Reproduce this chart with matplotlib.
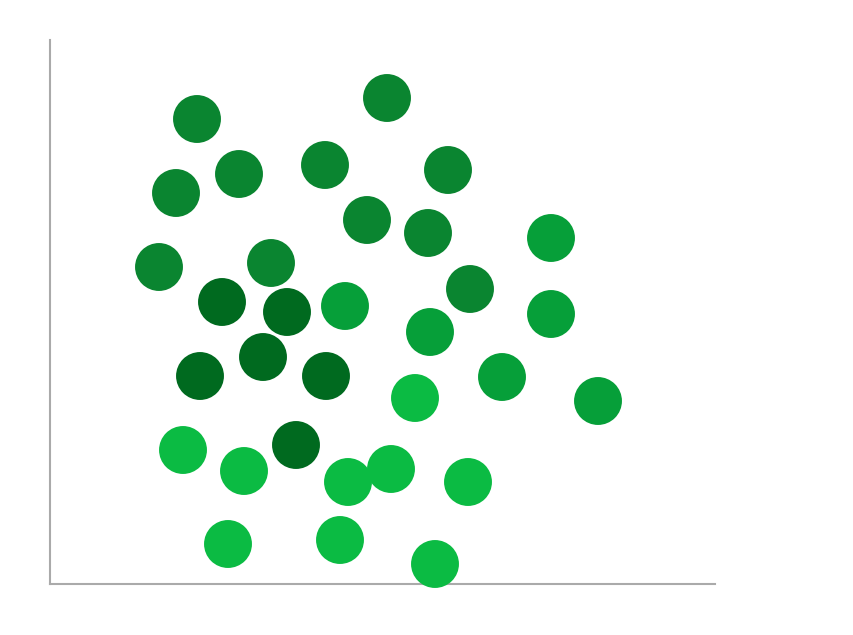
import numpy as np
import matplotlib
matplotlib.use("Agg")
import matplotlib.pyplot as plt

# x / y values per shade group (y measured upward from x axis)
dark_x = [222, 287, 200, 263, 326, 296]
dark_y = [282, 272, 208, 227, 208, 139]

mid_x = [197, 387, 176, 239, 325, 448, 367, 428, 159, 271, 470]
mid_y = [465, 486, 391, 410, 419, 414, 364, 351, 317, 321, 295]

midlight_x = [551, 345, 430, 551, 502, 598]
midlight_y = [346, 278, 252, 270, 207, 183]

light_x = [415, 183, 244, 348, 391, 468, 228, 340, 435]
light_y = [186, 134, 113, 102, 115, 102, 40, 44, 20]

groups = [
    (dark_x, dark_y, "#006a1f"),
    (mid_x, mid_y, "#0a8530"),
    (midlight_x, midlight_y, "#069f39"),
    (light_x, light_y, "#0bbb43"),
]

fig = plt.figure(figsize=(8.54, 6.35), dpi=100)
ax = fig.add_axes([50 / 854, 51 / 635, 665 / 854, 544 / 635])

for xs, ys, c in groups:
    ax.scatter(xs, ys, s=1190, color=c, edgecolors="none", clip_on=False, zorder=3)

ax.set_xlim(50, 715)
ax.set_ylim(0, 544)
for side in ["top", "right"]:
    ax.spines[side].set_visible(False)
for side in ["left", "bottom"]:
    ax.spines[side].set_color("#aaaaaa")
    ax.spines[side].set_linewidth(1.5)
ax.set_xticks([])
ax.set_yticks([])

fig.savefig("out.png", dpi=100)
